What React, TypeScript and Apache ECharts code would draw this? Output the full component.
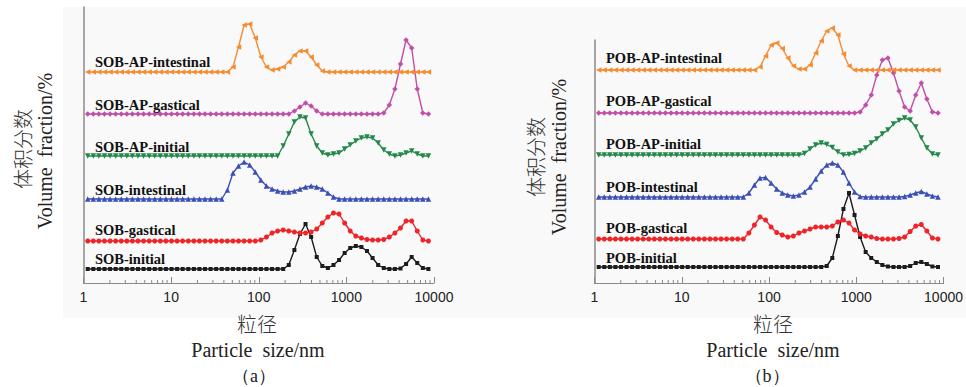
import { useEffect, useRef } from 'react';
import * as echarts from 'echarts';

// Particle size bins (nm)
const sizes = [
  1.117, 1.294, 1.499, 1.736, 2.01, 2.328, 2.696, 3.122, 3.615, 4.187,
  4.849, 5.615, 6.503, 7.531, 8.721, 10.1, 11.7, 13.54, 15.69, 18.17,
  21.04, 24.36, 28.21, 32.67, 37.84, 43.82, 50.75, 58.77, 68.06, 78.82,
  91.28, 105.7, 122.4, 141.8, 164.2, 190.1, 220.2, 255.0, 295.3, 342.0,
  396.1, 458.7, 531.2, 615.1, 712.4, 825.0, 955.4, 1106, 1281, 1484,
  1718, 1990, 2305, 2669, 3091, 3580, 4145, 4801, 5560, 6439,
  7456, 8635,
];

const xTickLabels = ['1', '10', '100', '1000', '10000'];
const minorTicks = [
  2, 3, 4, 5, 6, 7, 8, 9,
  20, 30, 40, 50, 60, 70, 80, 90,
  200, 300, 400, 500, 600, 700, 800, 900,
  2000, 3000, 4000, 5000, 6000, 7000, 8000, 9000,
];

// Panel (a)
const namesA = ['SOB-initial', 'SOB-gastical', 'SOB-intestinal', 'SOB-AP-initial', 'SOB-AP-gastical', 'SOB-AP-intestinal'];
const offsetsA = [7, 21, 42, 63.5, 84.5, 105.5];

const sobInitial = [
  0, 0, 0, 0, 0, 0, 0, 0, 0, 0,
  0, 0, 0, 0, 0, 0, 0, 0, 0, 0,
  0, 0, 0, 0, 0, 0, 0, 0, 0, 0,
  0, 0, 0, 0, 0, 0, 2, 9.5, 17.5, 22.5,
  16, 6, 1.5, 0.5, 2, 4.5, 8, 10.5, 11.5, 11,
  9, 5.5, 2, 0.5, 0, 0, 0.25, 2.5, 6, 3,
  0.5, 0,
];
const sobGastical = [
  0, 0, 0, 0, 0, 0, 0, 0, 0, 0,
  0, 0, 0, 0, 0, 0, 0, 0, 0, 0,
  0, 0, 0, 0, 0, 0, 0, 0, 0, 0,
  0, 0.5, 2, 4, 5, 5.5, 5, 4.5, 4, 4,
  4.5, 6, 9, 12, 14, 13.5, 9, 5, 2.5, 1.5,
  0.75, 0.5, 0.5, 0.75, 2, 4, 6.5, 10, 10, 5,
  0.5, 0,
];
const sobIntestinal = [
  0, 0, 0, 0, 0, 0, 0, 0, 0, 0,
  0, 0, 0, 0, 0, 0, 0, 0, 0, 0,
  0, 0, 0, 0, 0, 4.5, 13, 16.5, 18.5, 17,
  13.5, 9.5, 6.5, 5, 4, 3.5, 3.5, 4, 5, 6,
  6.5, 6, 5, 3, 1, 0, 0, 0, 0, 0,
  0, 0, 0, 0, 0, 0, 0, 0, 0, 0,
  0, 0,
];
const sobApInitial = [
  0, 0, 0, 0, 0, 0, 0, 0, 0, 0,
  0, 0, 0, 0, 0, 0, 0, 0, 0, 0,
  0, 0, 0, 0, 0, 0, 0, 0, 0, 0,
  0, 0, 0, 0, 0, 5, 11, 17, 19.5, 19,
  11, 5, 1.5, 0.5, 1, 1.5, 3.5, 5.5, 7.5, 9,
  9.5, 9, 6.5, 3, 1, 0, 0.5, 1.5, 2.5, 1,
  0, 0,
];
const sobApGastical = [
  0, 0, 0, 0, 0, 0, 0, 0, 0, 0,
  0, 0, 0, 0, 0, 0, 0, 0, 0, 0,
  0, 0, 0, 0, 0, 0, 0, 0, 0, 0,
  0, 0, 0, 0, 0, 0, 0, 1.5, 3.5, 5.5,
  4, 1.5, 0, 0, 0, 0, 0, 0, 0, 0,
  0, 0, 0, 0.5, 4.5, 12.5, 25, 37, 33, 12.5,
  0.5, 0,
];
const sobApIntestinal = [
  0, 0, 0, 0, 0, 0, 0, 0, 0, 0,
  0, 0, 0, 0, 0, 0, 0, 0, 0, 0,
  0, 0, 0, 0, 0, 0, 2.5, 12.5, 23.5, 24,
  17, 7.5, 2.5, 1, 1.5, 2.5, 5, 8.5, 10.5, 10.5,
  7.5, 3.5, 0.5, 0, 0, 0, 0, 0, 0, 0,
  0, 0, 0, 0, 0, 0, 0, 0, 0, 0,
  0, 0,
];

// Panel (b)
const namesB = ['POB-initial', 'POB-gastical', 'POB-intestinal', 'POB-AP-initial', 'POB-AP-gastical', 'POB-AP-intestinal'];
const offsetsB = [8, 22, 43, 64, 85, 106.5];

const pobInitial = [
  0, 0, 0, 0, 0, 0, 0, 0, 0, 0,
  0, 0, 0, 0, 0, 0, 0, 0, 0, 0,
  0, 0, 0, 0, 0, 0, 0, 0, 0, 0,
  0, 0, 0, 0, 0, 0, 0, 0, 0, 0,
  0, 0.5, 4.5, 15.5, 29, 37, 26, 15, 7.5, 4.5,
  2.5, 1, 0.25, 0, 0, 0, 0.5, 2, 2.5, 1.5,
  0.25, 0,
];
const pobGastical = [
  0, 0, 0, 0, 0, 0, 0, 0, 0, 0,
  0, 0, 0, 0, 0, 0, 0, 0, 0, 0,
  0, 0, 0, 0, 0, 0, 0, 3, 7, 11,
  9.5, 6, 3.25, 2, 1, 1.5, 3, 4, 5, 6,
  6, 6, 6.5, 8.5, 9.5, 8, 4.5, 2.5, 1.5, 1,
  0.25, 0, 0, 0, 0.25, 1, 3.75, 6.5, 7.25, 4,
  0.5, 0,
];
const pobIntestinal = [
  0, 0, 0, 0, 0, 0, 0, 0, 0, 0,
  0, 0, 0, 0, 0, 0, 0, 0, 0, 0,
  0, 0, 0, 0, 0, 0, 0, 2, 6, 9.5,
  9.75, 7, 4, 2, 1, 0.5, 1, 2.5, 5, 9,
  13, 16, 17, 16, 12.5, 7, 2.5, 0.25, 0, 0,
  0, 0, 0, 0, 0, 0.25, 1, 2, 2.75, 1.5,
  0.5, 0,
];
const pobApInitial = [
  0, 0, 0, 0, 0, 0, 0, 0, 0, 0,
  0, 0, 0, 0, 0, 0, 0, 0, 0, 0,
  0, 0, 0, 0, 0, 0, 0, 0, 0, 0,
  0, 0, 0, 0, 0, 0, 0, 0.75, 3, 5,
  6, 5.25, 3.75, 1.5, 0, 0.25, 0.75, 2, 3.5, 6,
  8, 10.5, 12.5, 15.5, 17.25, 18.5, 17.5, 14, 8.5, 3.5,
  0.5, 0,
];
const pobApGastical = [
  0, 0, 0, 0, 0, 0, 0, 0, 0, 0,
  0, 0, 0, 0, 0, 0, 0, 0, 0, 0,
  0, 0, 0, 0, 0, 0, 0, 0, 0, 0,
  0, 0, 0, 0, 0, 0, 0, 0, 0, 0,
  0, 0, 0, 0, 0, 0, 0, 0.5, 4, 9,
  19, 26.5, 27.5, 20, 11, 3, 1, 9, 15, 7,
  0.5, 0,
];
const pobApIntestinal = [
  0, 0, 0, 0, 0, 0, 0, 0, 0, 0,
  0, 0, 0, 0, 0, 0, 0, 0, 0, 0,
  0, 0, 0, 0, 0, 0, 0, 0, 0, 1.5,
  7, 12.5, 13.5, 10.75, 6, 2, 0.5, 0.5, 2.5, 8.5,
  14.5, 19.5, 21, 17.5, 8, 2, 0, 0, 0, 0,
  0, 0, 0, 0, 0, 0, 0, 0, 0, 0,
  0, 0,
];

const valuesA = [sobInitial, sobGastical, sobIntestinal, sobApInitial, sobApGastical, sobApIntestinal];
const valuesB = [pobInitial, pobGastical, pobIntestinal, pobApInitial, pobApGastical, pobApIntestinal];

const colors = ['#1c1c1c', '#ee2428', '#3b4fb4', '#23884a', '#c24ea8', '#f58c32'];
const symbols = ['rect', 'circle', 'triangle', 'triangle', 'diamond', 'triangle'];
const symbolRotates = [0, 0, 0, 180, 0, 90];
const symbolSizes = [4, 5, 5.5, 5.5, 5.5, 5.5];

const SERIF = '"Liberation Serif", "Times New Roman", serif';
const SANS = '"Liberation Sans", Arial, sans-serif';
const CJK = '"Noto Sans CJK SC", sans-serif';

export default function App() {
  const ref = useRef<HTMLDivElement>(null);

  useEffect(() => {
    if (!ref.current) return;
    const chart = echarts.init(ref.current, null, { renderer: 'svg' });

    const grids = [
      { left: 83.5, top: 7, width: 350.5, height: 276 },
      { left: 594.5, top: 40, width: 349.5, height: 243 },
    ];
    const yMax = [138, 121.5];

    const xAxes = grids.map((_, gi) => ({
      type: 'log',
      logBase: 10,
      gridIndex: gi,
      min: 1,
      max: 10000,
      axisLine: { show: true, lineStyle: { color: '#8a8a8a', width: 1.2 } },
      axisTick: { show: true, inside: true, length: 6, lineStyle: { color: '#8a8a8a', width: 1 } },
      axisLabel: {
        show: true,
        margin: 7,
        fontFamily: SANS,
        fontSize: 14,
        color: '#222',
        formatter: (v: number) => {
          const idx = Math.round(Math.log10(v));
          return xTickLabels[idx] ?? '';
        },
      },
      splitLine: { show: false },
      minorTick: { show: false },
    }));

    const yAxes = grids.map((_, gi) => ({
      type: 'value',
      gridIndex: gi,
      min: 0,
      max: yMax[gi],
      axisLine: { show: true, lineStyle: { color: '#8a8a8a', width: 1.5 } },
      axisTick: { show: false },
      axisLabel: { show: false },
      splitLine: { show: false },
    }));

    const lineSeries: any[] = [];
    [valuesA, valuesB].forEach((vals, gi) => {
      const offs = gi === 0 ? offsetsA : offsetsB;
      const names = gi === 0 ? namesA : namesB;
      vals.forEach((arr, si) => {
        lineSeries.push({
          type: 'line',
          name: names[si],
          xAxisIndex: gi,
          yAxisIndex: gi,
          data: arr.map((v, k) => [sizes[k], v + offs[si]]),
          symbol: symbols[si],
          symbolSize: symbolSizes[si],
          symbolRotate: symbolRotates[si],
          showAllSymbol: true,
          clip: false,
          lineStyle: { color: colors[si], width: 1.4 },
          itemStyle: { color: colors[si] },
          z: 3 + si,
          silent: true,
        });
      });
    });

    const minorSeries = [0, 1].map((gi) => ({
      type: 'custom',
      xAxisIndex: gi,
      yAxisIndex: gi,
      silent: true,
      data: minorTicks.map((v) => [v, 0]),
      renderItem: (params: any, api: any) => {
        const p = api.coord([api.value(0), 0]);
        return {
          type: 'line',
          shape: { x1: p[0], y1: p[1], x2: p[0], y2: p[1] - 3 },
          style: { stroke: '#8a8a8a', lineWidth: 1 },
        };
      },
      z: 2,
    }));

    const labelYA = [259, 230, 190, 147, 105, 62];
    const labelYB = [258, 228, 187, 144, 101, 58];
    const seriesLabels: any[] = [];
    namesA.forEach((n, i) =>
      seriesLabels.push({
        type: 'text',
        x: 95,
        y: labelYA[i],
        z: 20,
        style: { text: n, font: `bold 14.5px ${SERIF}`, fill: '#111', verticalAlign: 'middle', align: 'left' },
      })
    );
    namesB.forEach((n, i) =>
      seriesLabels.push({
        type: 'text',
        x: 606,
        y: labelYB[i],
        z: 20,
        style: { text: n, font: `bold 14.5px ${SERIF}`, fill: '#111', verticalAlign: 'middle', align: 'left' },
      })
    );

    const titleText = (text: string, x: number, y: number, font: string, rotation = 0, fill = '#222') => ({
      type: 'text',
      x,
      y,
      rotation,
      z: 20,
      style: { text, font, fill, align: 'center', verticalAlign: 'middle' },
    });

    const option: any = {
      animation: false,
      backgroundColor: '#ffffff',
      grid: grids.map((g) => ({ ...g, containLabel: false })),
      xAxis: xAxes,
      yAxis: yAxes,
      series: [...minorSeries, ...lineSeries],
      graphic: [
        {
          type: 'rect',
          shape: { x: 63, y: 7, width: 903, height: 311 },
          style: { fill: '#f9f9f9' },
          z: -10,
          silent: true,
        },
        ...seriesLabels,
        titleText('粒径', 257, 323, `300 20px ${CJK}`, 0, '#333'),
        titleText('Particle  size/nm', 258, 350, `20px ${SERIF}`),
        titleText('（a）', 254, 376, `18px ${SERIF}`),
        titleText('粒径', 773, 323, `300 20px ${CJK}`, 0, '#333'),
        titleText('Particle  size/nm', 773, 350, `20px ${SERIF}`),
        titleText('（b）', 767, 376, `18px ${SERIF}`),
        titleText('体积分数', 22, 149, `300 20px ${CJK}`, Math.PI / 2, '#333'),
        titleText('Volume  fraction/%', 45, 151, `20px ${SERIF}`, Math.PI / 2),
        titleText('体积分数', 535, 157, `300 20px ${CJK}`, Math.PI / 2, '#333'),
        titleText('Volume  fraction/%', 559, 157, `20px ${SERIF}`, Math.PI / 2),
      ],
    };

    chart.setOption(option);
    return () => chart.dispose();
  }, []);

  return (
    <div
      ref={ref}
      style={{ position: 'fixed', left: 0, top: 0, width: 966, height: 387 }}
    />
  );
}
